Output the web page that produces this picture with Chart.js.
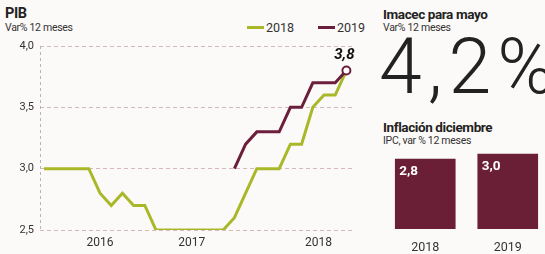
<!DOCTYPE html>
<html>
<head>
<meta charset="utf-8">
<script src="https://cdn.jsdelivr.net/npm/chart.js@4/dist/chart.umd.min.js"></script>
<style>
  html, body { margin: 0; padding: 0; }
  body { width: 545px; height: 254px; overflow: hidden; background: #fcfaf8; position: relative; font-family: Roboto, "Open Sans", sans-serif; color: #222; }
  .t { position: absolute; white-space: nowrap; }
  .h { font-weight: 700; font-size: 13.5px; letter-spacing: -0.4px; }
  .s { font-size: 10.5px; letter-spacing: -0.3px; color: #333; }
  #pibWrap { position: absolute; left: 0; top: 0; width: 360px; height: 254px; }
  #ipcWrap { position: absolute; left: 380px; top: 120px; width: 170px; height: 134px; }
  .leg { position: absolute; top: 20px; font-size: 12.5px; color: #333; }
  .leg i { display: inline-block; width: 17px; height: 3px; vertical-align: middle; margin-right: 2px; margin-top: -2px; }
  #big { left: 379px; top: 22px; font-size: 77px; font-weight: 300; letter-spacing: 6px; color: #222; }
</style>
</head>
<body>
<div class="t h" style="left:5px;top:5px;font-size:14.5px;">PIB</div>
<div class="t s" style="left:5px;top:21px;">Var% 12 meses</div>

<div class="leg" style="left:247px;"><i style="background:#a9b829"></i>2018</div>
<div class="leg" style="left:318px;"><i style="background:#6c1f3c"></i>2019</div>

<div id="pibWrap"><canvas id="pibCanvas"></canvas></div>

<div class="t h" style="left:383px;top:6px;">Imacec para mayo</div>
<div class="t s" style="left:383px;top:21px;">Var% 12 meses</div>
<div class="t" id="big">4,2%</div>

<div class="t h" style="left:383px;top:119px;">Inflación diciembre</div>
<div class="t s" style="left:383px;top:134px;">IPC, var % 12 meses</div>

<div id="ipcWrap"><canvas id="ipcCanvas"></canvas></div>

<script>
// PIB, var% 12 meses (one value per month)
const pib2018 = [3.0, 3.0, 3.0, 3.0, 3.0, 2.8, 2.7, 2.8, 2.7, 2.7, 2.5, 2.5, 2.5, 2.5,
  2.5, 2.5, 2.5, 2.6, 2.8, 3.0, 3.0, 3.0, 3.2, 3.2, 3.5, 3.6, 3.6, 3.8];
const pib2019 = [null, null, null, null, null, null, null, null, null, null, null, null, null, null,
  null, null, null, 3.0, 3.2, 3.3, 3.3, 3.3, 3.5, 3.5, 3.7, 3.7, 3.7, 3.8];
const yearTicks = [5, 13.2, 24.5];
const yearLabels = ["2016", "2017", "2018"];
const lastLabel = "3,8";

// Inflación diciembre
const ipcYears = ["2018", "2019"];
const ipcValues = [2.8, 3.0];

const green = "#a9b829";
const wine = "#6c1f3c";
const barWine = "#6a1f36";

const fmt = (v) => v.toFixed(1).replace(".", ",");
const toPoints = (arr) => arr.map((v, i) => ({ x: i, y: v }));

const endLabel = {
  id: "endLabel",
  afterDatasetsDraw(chart) {
    const meta = chart.getDatasetMeta(0);
    const pt = meta.data[meta.data.length - 1];
    const { ctx } = chart;
    ctx.save();
    ctx.font = "italic 700 15px Roboto, sans-serif";
    ctx.fillStyle = "#111";
    ctx.textAlign = "center";
    ctx.textBaseline = "bottom";
    ctx.fillText(lastLabel, pt.x - 2, pt.y - 8);
    ctx.restore();
  },
};

// dashed left axis line
const dashedLeft = {
  id: "dashedLeft",
  beforeDatasetsDraw(chart) {
    const { ctx, chartArea } = chart;
    const x = Math.round(chartArea.left) + 0.5;
    ctx.save();
    ctx.strokeStyle = "#b5b5b5";
    ctx.lineWidth = 1;
    ctx.setLineDash([3, 3]);
    ctx.beginPath();
    ctx.moveTo(x, chartArea.top);
    ctx.lineTo(x, chartArea.bottom);
    ctx.stroke();
    ctx.restore();
  },
};

new Chart(document.getElementById("pibCanvas"), {
  type: "line",
  data: {
    datasets: [
      {
        label: "2019",
        data: toPoints(pib2019),
        borderColor: wine,
        borderWidth: 3,
        pointRadius: (c) => (c.dataIndex === pib2019.length - 1 ? 4 : 0),
        pointBackgroundColor: "#fff",
        pointBorderColor: wine,
        pointBorderWidth: 2,
        tension: 0,
        spanGaps: false,
      },
      {
        label: "2018",
        data: toPoints(pib2018),
        borderColor: green,
        borderWidth: 3,
        pointRadius: 0,
        tension: 0,
      },
    ],
  },
  options: {
    responsive: true,
    maintainAspectRatio: false,
    animation: false,
    layout: { padding: { top: 46, right: 8, left: 0, bottom: 0 } },
    plugins: { legend: { display: false }, tooltip: { enabled: false } },
    scales: {
      x: {
        type: "linear",
        min: -0.36,
        max: 27.5,
        afterBuildTicks: (scale) => {
          scale.ticks = yearTicks.map((v) => ({ value: v }));
        },
        afterFit: (scale) => { scale.height = 24; },
        grid: { display: false, drawTicks: false },
        border: { display: false },
        ticks: {
          autoSkip: false,
          maxRotation: 0,
          padding: 6,
          color: "#333",
          font: { family: "Roboto", size: 12 },
          callback: (v) => yearLabels[yearTicks.indexOf(v)],
        },
      },
      y: {
        min: 2.5,
        max: 4.0,
        afterFit: (scale) => { scale.width = 40; },
        grid: { color: "#d7b9bb", lineWidth: 1, drawTicks: false },
        border: { display: false, dash: [4, 3] },
        ticks: {
          stepSize: 0.5,
          padding: 6,
          color: "#333",
          font: { family: "Roboto", size: 11 },
          callback: (v) => fmt(v),
        },
      },
    },
  },
  plugins: [endLabel, dashedLeft],
});

const barLabels = {
  id: "barLabels",
  afterDatasetsDraw(chart) {
    const { ctx } = chart;
    const meta = chart.getDatasetMeta(0);
    ctx.save();
    ctx.font = "700 13.5px Roboto, sans-serif";
    ctx.fillStyle = "#fff";
    ctx.textAlign = "left";
    ctx.textBaseline = "top";
    meta.data.forEach((bar, i) => {
      ctx.fillText(fmt(ipcValues[i]), bar.x - bar.width / 2 + 4, bar.y + 6);
    });
    ctx.restore();
  },
};

new Chart(document.getElementById("ipcCanvas"), {
  type: "bar",
  data: {
    labels: ipcYears,
    datasets: [{ data: ipcValues, backgroundColor: barWine, barThickness: 60 }],
  },
  options: {
    responsive: true,
    maintainAspectRatio: false,
    animation: false,
    layout: { padding: { top: 9, left: 4, right: 1, bottom: 0 } },
    plugins: { legend: { display: false }, tooltip: { enabled: false } },
    scales: {
      x: {
        afterFit: (scale) => { scale.height = 25; },
        grid: { display: false, drawTicks: false },
        border: { display: false },
        ticks: { padding: 11, color: "#333", font: { family: "Roboto", size: 12.5 } },
      },
      y: { display: false, min: 0, max: 4 },
    },
  },
  plugins: [barLabels],
});
</script>
</body>
</html>
